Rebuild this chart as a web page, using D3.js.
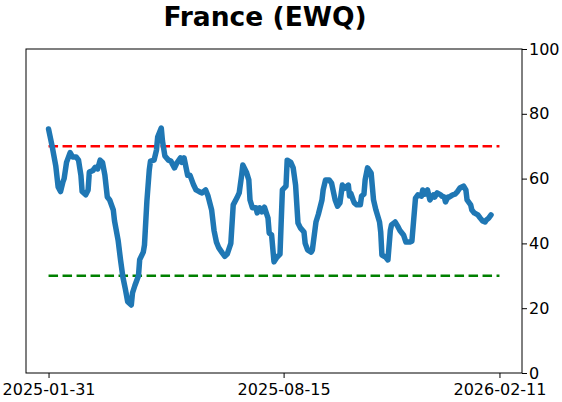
<!DOCTYPE html>
<html>
<head>
<meta charset="utf-8">
<script src="https://cdn.jsdelivr.net/npm/d3@7"></script>
<style>
  body { margin: 0; background: #fff; }
  text { font-family: "DejaVu Sans", sans-serif; }
</style>
</head>
<body>
<div id="chart"></div>
<script>
var title = "France (EWQ)";
var startDate = "2025-01-31";
var endDate = "2026-02-11";
var tickDates = ["2025-01-31", "2025-08-15", "2026-02-11"];
var yTicks = [0, 20, 40, 60, 80, 100];
var upperLevel = 70, lowerLevel = 30;

// days after startDate, and the reading on that day
var dayOffsets = [0, 3, 6, 8, 10, 12, 13, 15, 17, 18, 20, 23, 25, 27, 28, 31, 33, 34, 37, 39,
  41, 43, 45, 47, 49, 51, 54, 55, 58, 60, 62, 64, 66, 69, 70, 72, 75, 76, 79, 80,
  82, 84, 85, 88, 90, 91, 94, 95, 97, 100, 102, 105, 107, 110, 111, 113, 116, 118, 121, 123,
  126, 128, 131, 133, 136, 138, 140, 142, 145, 147, 149, 152, 154, 157, 159, 161, 162, 165, 167, 168,
  170, 173, 174, 176, 178, 180, 183, 184, 186, 188, 190, 193, 195, 198, 199, 202, 204, 206, 208, 210,
  213, 214, 216, 219, 220, 223, 225, 228, 229, 231, 234, 236, 239, 241, 243, 245, 247, 250, 251, 252,
  254, 255, 257, 260, 261, 263, 264, 266, 269, 271, 273, 276, 277, 278, 281, 283, 285, 286, 289, 291,
  293, 296, 298, 301, 303, 306, 308, 311, 312, 314, 316, 318, 321, 322, 324, 327, 328, 330, 331, 333,
  334, 337, 339, 341, 343, 346, 348, 349, 352, 353, 355, 358, 360, 362, 364, 365, 367, 369];
var values = [75.3, 70, 64, 57.4, 56, 59, 60, 65, 67, 68, 66.7, 66.7, 65.7, 61, 56, 55, 56.5, 62, 62.5, 63.5,
  63, 65.7, 65, 61, 54.3, 53.4, 50.3, 47, 41, 35, 29.6, 26, 22, 21, 24.7, 27, 30, 35, 37.3, 39.5,
  53, 62.7, 65.4, 65.7, 68.8, 72.8, 75.6, 71.6, 67, 65.7, 65.4, 63.3, 64.8, 66.4, 65, 66.4, 61, 61, 58, 56.5,
  55.9, 55.6, 56.5, 54.6, 50.3, 44, 40.4, 38.6, 37, 36, 36.7, 40, 51.9, 54, 55.6, 61, 64.2, 62, 59.6, 53.4,
  51, 51, 49.4, 51, 49.7, 51.2, 47.8, 43.2, 42.6, 34.3, 35.5, 36.7, 56.5, 57.7, 65.7, 65, 63.3, 58, 46.3, 44.8,
  43.5, 40, 38, 37.3, 38, 46.6, 49, 53.4, 56.5, 59.6, 59.6, 58.6, 53.4, 51.5, 52.5, 58, 57, 58, 54.6, 55.5,
  53.4, 52.5, 51.9, 51.9, 54.6, 55.2, 59.6, 63.3, 61.7, 53.4, 50.3, 46.6, 43.5, 36.4, 35.8, 34.9, 44, 45.7, 46.6, 45.4,
  44, 42.6, 40.4, 40.4, 40.7, 54, 55, 54.6, 56.5, 55.2, 56.5, 53.4, 55, 54.3, 55.6, 55, 54.6, 54.3, 52.8, 54.3,
  54.3, 55, 55.2, 56, 57.1, 57.7, 56.5, 53.4, 51.9, 50.3, 49.4, 48.8, 47.8, 46.9, 46.6, 47.2, 47.8, 48.8];

var parse = d3.timeParse("%Y-%m-%d");
var t0 = parse(startDate), t1 = parse(endDate);
var data = dayOffsets.map(function(d, i) {
  return { date: d3.timeDay.offset(t0, d), value: values[i] };
});

var W = 562, H = 402;
var margin = { top: 49, left: 26, right: 40, bottom: 29 };
var width = W - margin.left - margin.right,
    height = H - margin.top - margin.bottom;

var svg = d3.select("#chart").append("svg")
  .attr("width", W).attr("height", H);

var g = svg.append("g")
  .attr("transform", "translate(" + margin.left + "," + margin.top + ")");

// 5% padding either side like the original
var pad = (t1 - t0) * 0.05;
var x = d3.scaleTime()
  .domain([new Date(+t0 - pad), new Date(+t1 + pad)])
  .range([0, width]);
var y = d3.scaleLinear().domain([0, 100]).range([height, 0]);

// threshold lines
[[upperLevel, "#ff0000"], [lowerLevel, "#008000"]].forEach(function(l) {
  g.append("line")
    .attr("x1", x(t0)).attr("x2", x(t1))
    .attr("y1", y(l[0])).attr("y2", y(l[0]))
    .attr("stroke", l[1])
    .attr("stroke-width", 2.6)
    .attr("stroke-dasharray", "9.5,4.5");
});

var line = d3.line()
  .x(function(d) { return x(d.date); })
  .y(function(d) { return y(d.value); });

g.append("path")
  .datum(data)
  .attr("d", line)
  .attr("fill", "none")
  .attr("stroke", "#1f77b4")
  .attr("stroke-width", 5.5)
  .attr("stroke-linejoin", "round")
  .attr("stroke-linecap", "round");

// frame
g.append("rect")
  .attr("width", width).attr("height", height)
  .attr("fill", "none").attr("stroke", "#000").attr("stroke-width", 1);

var xAxis = g.append("g")
  .attr("transform", "translate(0," + height + ")")
  .call(d3.axisBottom(x)
    .tickValues(tickDates.map(parse))
    .tickFormat(d3.timeFormat("%Y-%m-%d"))
    .tickSize(5).tickSizeOuter(0));

var yAxis = g.append("g")
  .attr("transform", "translate(" + width + ",0)")
  .call(d3.axisRight(y).tickValues(yTicks).tickSize(5).tickSizeOuter(0));

[xAxis, yAxis].forEach(function(a) {
  a.select(".domain").remove();
  a.selectAll("text").attr("font-size", 16).attr("fill", "#000")
    .attr("font-family", "DejaVu Sans, sans-serif");
  a.selectAll("line").attr("stroke", "#000");
});
xAxis.selectAll("text").attr("dy", "0.8em").attr("y", 9);
yAxis.selectAll("text").attr("x", 7);

svg.append("text")
  .attr("x", 265).attr("y", 26)
  .attr("text-anchor", "middle")
  .attr("font-size", 26.5)
  .attr("font-weight", "bold")
  .text(title);
</script>
</body>
</html>
